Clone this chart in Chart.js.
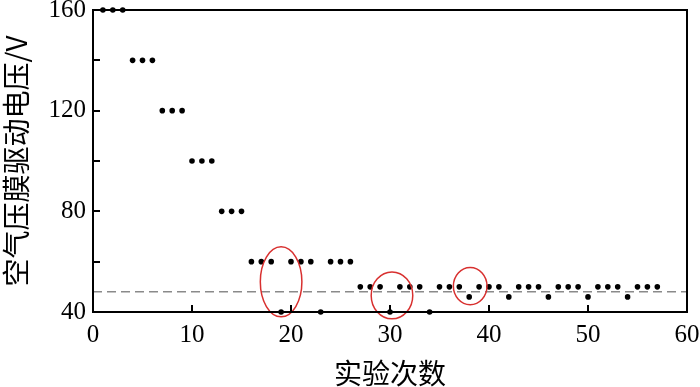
<!DOCTYPE html>
<html>
<head>
<meta charset="utf-8">
<title>空气压膜驱动电压</title>
<script src="https://cdn.jsdelivr.net/npm/chart.js"></script>
<style>
  html, body { margin: 0; padding: 0; background: #fff; }
  #wrap { width: 700px; height: 387px; }
</style>
</head>
<body>
<div id="wrap"><canvas id="chart"></canvas></div>
<script>
// trial number and drive voltage
const trials = [1, 2, 3, 4, 5, 6, 7, 8, 9, 10, 11, 12, 13, 14, 15, 16, 17, 18, 19, 20,
  21, 22, 23, 24, 25, 26, 27, 28, 29, 30, 31, 32, 33, 34, 35, 36, 37, 38, 39, 40,
  41, 42, 43, 44, 45, 46, 47, 48, 49, 50, 51, 52, 53, 54, 55, 56, 57];
const voltage = [160, 160, 160, 140, 140, 140, 120, 120, 120, 100, 100, 100, 80, 80, 80,
  60, 60, 60, 40, 60, 60, 60, 40, 60, 60, 60, 50, 50, 50, 40, 50, 50, 50, 40,
  50, 50, 50, 46, 50, 50, 50, 46, 50, 50, 50, 46, 50, 50, 50, 46, 50, 50, 50, 46,
  50, 50, 50];

// dashed reference level
const refX = [0, 60];
const refY = [48, 48];

// red rings (centre and radii in data units)
const ringX = [19, 30.2, 38.1];
const ringY = [52, 46.6, 50.3];
const ringRx = [2.1, 2.1, 1.7];
const ringRy = [13.9, 9.3, 7.4];

const xTicks = [0, 10, 20, 30, 40, 50, 60];
const yTicks = [40, 60, 80, 100, 120, 140, 160];

const tickFont = { family: '"Liberation Serif", "Times New Roman", serif', size: 25 };
const titleFont = { family: '"Noto Sans CJK SC", sans-serif', size: 28 };

const marks = {
  id: 'marks',
  afterDraw(chart) {
    const { ctx, chartArea: a, scales: { x, y } } = chart;
    ctx.save();
    ctx.setLineDash([]);

    ctx.strokeStyle = '#d8302f';
    ctx.lineWidth = 1.5;
    ringX.forEach((cx, i) => {
      const px = x.getPixelForValue(cx);
      const py = y.getPixelForValue(ringY[i]);
      const rx = Math.abs(x.getPixelForValue(cx + ringRx[i]) - px);
      const ry = Math.abs(y.getPixelForValue(ringY[i] + ringRy[i]) - py);
      ctx.beginPath();
      ctx.ellipse(px, py, rx, ry, 0, 0, Math.PI * 2);
      ctx.stroke();
    });

    // box round the plot
    const l = Math.round(a.left), r = Math.round(a.right);
    const t = Math.round(a.top), b = Math.round(a.bottom);
    ctx.fillStyle = '#000';
    ctx.fillRect(l - 1, t - 1, r - l + 2, 2);
    ctx.fillRect(l - 1, b - 1, r - l + 2, 2);
    ctx.fillRect(l - 1, t - 1, 2, b - t + 2);
    ctx.fillRect(r - 1, t - 1, 2, b - t + 2);

    // inward ticks
    xTicks.forEach(v => {
      const px = Math.round(x.getPixelForValue(v));
      ctx.fillRect(px - 1, b - 7, 2, 7);
    });
    yTicks.forEach(v => {
      const py = Math.round(y.getPixelForValue(v));
      ctx.fillRect(l, py - 1, 7, 2);
    });
    ctx.restore();
  }
};

new Chart(document.getElementById('chart'), {
  type: 'scatter',
  data: {
    datasets: [
      {
        label: 'voltage',
        data: trials.map((t, i) => ({ x: t, y: voltage[i] })),
        backgroundColor: '#000',
        borderColor: '#000',
        pointRadius: 2.8,
        pointBorderWidth: 0,
        clip: false
      },
      {
        type: 'line',
        label: 'level',
        data: refX.map((t, i) => ({ x: t, y: refY[i] })),
        borderColor: '#8a8a8a',
        borderWidth: 1.5,
        borderDash: [9, 5],
        pointRadius: 0,
        fill: false
      }
    ]
  },
  options: {
    responsive: true,
    maintainAspectRatio: false,
    animation: false,
    events: [],
    layout: { padding: { top: 10, right: 13, left: 0, bottom: 0 } },
    plugins: {
      legend: { display: false },
      tooltip: { enabled: false }
    },
    scales: {
      x: {
        type: 'linear',
        min: 0,
        max: 60,
        grid: { display: false, drawTicks: false },
        border: { display: false },
        ticks: { stepSize: 10, color: '#000', font: tickFont, padding: 8, maxRotation: 0 },
        title: { display: true, text: '实验次数', color: '#000', font: titleFont, padding: { top: 0, bottom: -3 } },
        afterFit(s) { s.height = 75; s.paddingLeft = 0; s.paddingRight = 0; }
      },
      y: {
        min: 40,
        max: 160,
        grid: { display: false, drawTicks: false },
        border: { display: false },
        ticks: { stepSize: 40, color: '#000', font: tickFont, padding: 7 },
        title: { display: true, text: '空气压膜驱动电压/V', color: '#000', font: titleFont, padding: { top: 0, bottom: 0 } },
        afterFit(s) { s.width = 93; s.paddingTop = 0; s.paddingBottom = 0; }
      }
    }
  },
  plugins: [marks]
});
</script>
</body>
</html>
